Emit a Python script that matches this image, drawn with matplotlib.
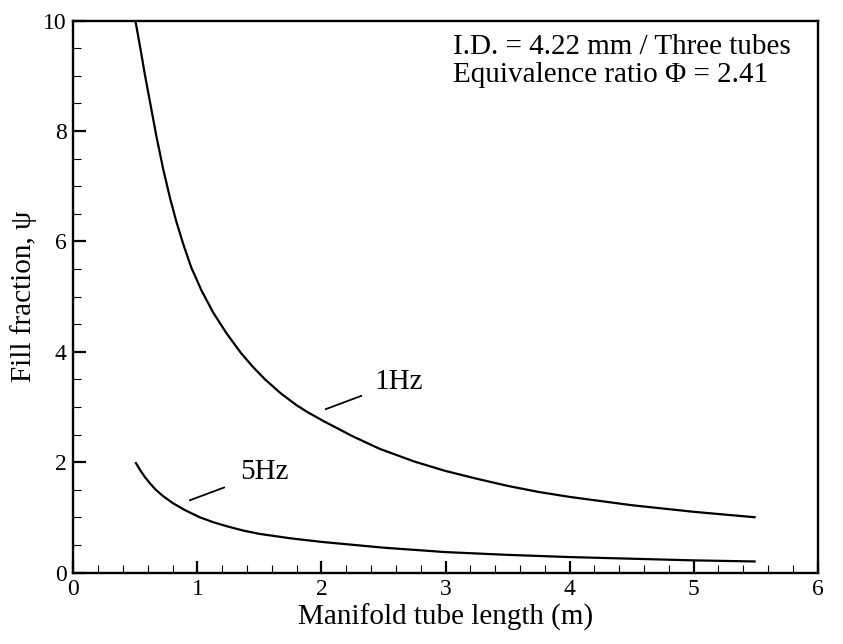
import matplotlib
matplotlib.use("Agg")
import matplotlib.pyplot as plt
from matplotlib.ticker import MultipleLocator

plt.rcParams['font.family'] = ['Liberation Serif', 'DejaVu Serif']

# Data
length_1hz = [0.50, 0.54, 0.58, 0.62, 0.67, 0.725, 0.78, 0.83, 0.886, 0.95, 1.035, 1.13, 1.236,
              1.35, 1.45, 1.545, 1.67, 1.80, 1.90, 2.02, 2.25, 2.47, 2.75, 3.0, 3.25, 3.5,
              3.75, 4.0, 4.5, 5.0, 5.5]
psi_1hz = [10.0, 9.5, 8.98, 8.5, 7.9, 7.3, 6.78, 6.36, 5.95, 5.53, 5.1, 4.7, 4.33,
           3.98, 3.72, 3.5, 3.25, 3.03, 2.89, 2.74, 2.47, 2.24, 2.01, 1.84, 1.70, 1.57,
           1.46, 1.37, 1.22, 1.10, 1.0]

length_5hz = [0.50, 0.54, 0.58, 0.62, 0.66, 0.72, 0.80, 0.90, 1.02, 1.13, 1.25, 1.37, 1.5,
              1.75, 2.0, 2.5, 3.0, 3.5, 4.0, 4.5, 5.0, 5.5]
psi_5hz = [2.0, 1.85, 1.72, 1.61, 1.51, 1.39, 1.26, 1.13, 1.0, 0.91, 0.83, 0.76, 0.70,
           0.62, 0.555, 0.45, 0.37, 0.32, 0.28, 0.25, 0.22, 0.20]

x_ticks = [0, 1, 2, 3, 4, 5, 6]
y_ticks = [0, 2, 4, 6, 8, 10]

fig = plt.figure(figsize=(8.43, 6.44), dpi=100)
ax = fig.add_axes([0.087, 0.111, 0.883, 0.857])

ax.plot(length_1hz, psi_1hz, color='black', lw=1.6, solid_capstyle='butt', solid_joinstyle='round')
ax.plot(length_5hz, psi_5hz, color='black', lw=1.6, solid_capstyle='butt', solid_joinstyle='round')

ax.set_xlim(0, 6)
ax.set_ylim(0, 10)
ax.set_xticks(x_ticks)
ax.set_yticks(y_ticks)
ax.xaxis.set_minor_locator(MultipleLocator(0.2))
ax.yaxis.set_minor_locator(MultipleLocator(0.5))
ax.tick_params(which='major', direction='in', length=9, width=1.6, labelsize=17, pad=5)
ax.tick_params(which='minor', direction='in', length=5.5, width=0.8)
ax.tick_params(top=False, right=False, which='both')
for s in ax.spines.values():
    s.set_linewidth(1.7)

ax.set_xlabel('Manifold tube length (m)', fontsize=21, labelpad=2)
ax.set_ylabel('Fill fraction, ψ', fontsize=21, labelpad=4)

# Labels with leader lines
ax.plot([2.035, 2.32], [2.96, 3.20], color='black', lw=1.3)
ax.text(2.43, 3.46, '1Hz', fontsize=21, va='center', ha='left')
ax.plot([0.94, 1.215], [1.31, 1.54], color='black', lw=1.3)
ax.text(1.344, 1.83, '5Hz', fontsize=21, va='center', ha='left')

ax.text(0.51, 0.952, 'I.D. = 4.22 mm / Three tubes', transform=ax.transAxes,
        fontsize=21, va='center', ha='left')
ax.text(0.51, 0.902, 'Equivalence ratio Φ = 2.41', transform=ax.transAxes,
        fontsize=21, va='center', ha='left')

fig.savefig('out.png', dpi=100)
